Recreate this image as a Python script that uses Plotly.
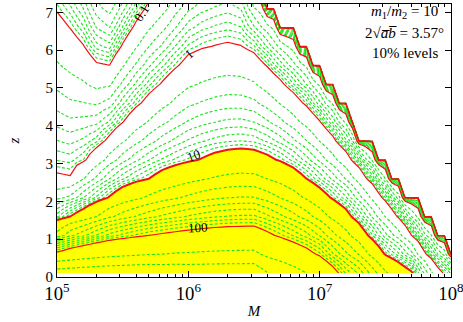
import numpy as np
import plotly.graph_objects as go

# columns where the contour heights were read: log10 of M
M_LOG = [5.0, 5.1, 5.2, 5.3, 5.4, 5.5, 5.6, 5.7, 5.8, 5.9, 6.0,
         6.1, 6.2, 6.3, 6.4, 6.5, 6.6, 6.7, 6.8, 6.9, 7.0,
         7.1, 7.2, 7.3, 7.4, 7.5, 7.6, 7.7, 7.8, 7.9, 8.0]
# grid rows: redshift z
Z_NODES = [0.1, 0.6, 1.1, 1.6, 2.1, 2.6, 3.1, 3.6, 4.1, 4.6, 5.1, 5.6, 6.1, 6.6, 7.1, 7.6]
# grid columns (log10 M), finer than the reading columns
GRID_M = [5.0 + 0.05 * i for i in range(61)]

# per column: log10 of the quantity at z=0,
# and the redshift where the 100 / 10 / 1 / 0.1 contours cross that column
LOG_BOTTOM = [2.65, 2.65, 2.65, 2.65, 2.65, 2.65, 2.65, 2.65, 2.64, 2.64, 2.63,
              2.63, 2.63, 2.63, 2.63, 2.63, 2.53, 2.48, 2.42, 2.35, 2.28,
              2.15, 1.95, 1.82, 1.62, 1.40, 1.25, 1.10, 0.67, 0.21, -0.05]
Z_100 = [0.64, 0.72, 0.80, 0.88, 0.95, 1.00, 1.05, 1.10, 1.14, 1.18, 1.22,
         1.25, 1.28, 1.30, 1.31, 1.32, 1.19, 1.04, 0.90, 0.75, 0.55,
         0.22, None, None, None, None, None, None, None, None, None]
Z_10 = [1.37, 1.60, 1.72, 1.90, 2.12, 2.30, 2.45, 2.60, 2.75, 2.87, 3.00,
        3.12, 3.22, 3.29, 3.33, 3.30, 3.20, 3.05, 2.85, 2.60, 2.32,
        2.05, 1.78, 1.39, 0.97, 0.58, 0.36, 0.14, None, None, None]
Z_1 = [2.65, 2.62, 2.95, 3.32, 3.70, 4.08, 4.45, 4.80, 5.15, 5.50, 5.85,
       6.02, 6.12, 6.18, 6.12, 5.95, 5.57, 5.22, 4.87, 4.52, 4.13,
       3.72, 3.31, 2.90, 2.48, 2.02, 1.56, 1.10, 0.64, 0.20, None]
Z_01 = [7.00, 6.57, 6.14, 5.66, 5.60, 6.16, 6.72, 7.27, 7.65, 8.20, 8.80,
        9.20, 9.50, 9.75, 9.30, 7.65, 7.23, 6.75, 6.40, 5.95, 5.40,
        4.90, 4.35, 3.80, 3.30, 2.85, 2.45, 2.05, 1.60, 1.20, 0.78]
# redshift above which the signal is gone (zero)
Z_CUT = [99, 99, 99, 99, 99, 99, 99, 99, 99, 99, 99,
         99, 99, 99, 99, 7.45, 7.03, 6.55, 6.20, 5.75, 5.20,
         4.70, 4.15, 3.60, 3.10, 2.65, 2.25, 1.85, 1.40, 1.00, 0.58]

RED_LEVELS = [0.001, 0.01, 0.1, 1, 100]
FILL_LEVEL = 10
LABELS = [("0.1", 5.64, 6.98, -58), ("1", 6.01, 5.90, -40),
          ("10", 6.04, 3.22, -20), ("100", 6.07, 1.31, -3)]

GREEN = "rgb(30,228,30)"
RED = "rgb(238,20,20)"
SERIF = "Liberation Serif, DejaVu Serif, serif"


def column_log(i):
    zs, ls = [0.0], [LOG_BOTTOM[i]]
    for h, lv in ((Z_100[i], 2), (Z_10[i], 1), (Z_1[i], 0), (Z_01[i], -1)):
        if h is not None:
            zs.append(h)
            ls.append(lv)
    slope = (ls[-1] - ls[-2]) / (zs[-1] - zs[-2])
    ls.append(ls[-1] + slope * (10.0 - zs[-1]))
    zs.append(10.0)
    return np.interp(Z_NODES, zs, ls)


coarse = np.column_stack([column_log(i) for i in range(len(M_LOG))])
logs = np.array([np.interp(GRID_M, M_LOG, row) for row in coarse])
grid = 10 ** logs
cut = np.interp(GRID_M, M_LOG, Z_CUT)
grid[np.array(Z_NODES)[:, None] > cut[None, :]] = 0.0
mvals = [10 ** v for v in GRID_M]

fig = go.Figure()

# yellow region above 10 (plotly shades the side that fails the constraint)
fig.add_trace(go.Contour(
    x=mvals, y=Z_NODES, z=grid, showscale=False, hoverinfo="skip",
    contours=dict(type="constraint", operation="<", value=FILL_LEVEL),
    fillcolor="#ffff00", line=dict(width=0, smoothing=0),
))

# green dashed contours, 2..9 per decade
for k in range(-3, 3):
    d = 10.0 ** k
    fig.add_trace(go.Contour(
        x=mvals, y=Z_NODES, z=grid, showscale=False, hoverinfo="skip",
        autocontour=False,
        contours=dict(coloring="none", start=2 * d, end=9.01 * d, size=d),
        line=dict(color=GREEN, width=1.1, dash="3px,2px", smoothing=0),
    ))

# red decade contours
for lv in RED_LEVELS + [FILL_LEVEL]:
    fig.add_trace(go.Contour(
        x=mvals, y=Z_NODES, z=grid, showscale=False, hoverinfo="skip",
        contours=dict(type="constraint", operation="=", value=lv),
        line=dict(color=RED, width=2 if lv == FILL_LEVEL else 1.2, smoothing=0),
    ))

for txt, lx, lz, ang in LABELS:
    fig.add_annotation(x=lx, y=lz, text=txt, showarrow=False, textangle=ang,
                       font=dict(family=SERIF, size=13, color="black"))

for txt, py in (("<i>m</i><sub>1</sub>/<i>m</i><sub>2</sub> = 10", 0.972),
                ("2\u221a<i>a\u0305b\u0305</i> = 3.57\u00b0", 0.895),
                ("10% levels", 0.822)):
    fig.add_annotation(xref="paper", yref="paper", x=0.883, y=py, text=txt,
                       showarrow=False, xanchor="center", yanchor="middle",
                       font=dict(family=SERIF, size=15, color="black"))

fig.update_xaxes(
    type="log", range=[5, 8], dtick=1, exponentformat="power",
    ticks="inside", ticklen=6, tickcolor="black", mirror="ticks",
    showline=True, linecolor="black", linewidth=1, showgrid=False, zeroline=False,
    minor=dict(ticks="inside", ticklen=3, tickcolor="black", dtick="D1", showgrid=False),
    ticklabeloverflow="allow", automargin=False,
    tickfont=dict(family=SERIF, size=15, color="black"),
    title=dict(text="<i>M</i>", font=dict(family=SERIF, size=15, color="black"), standoff=2),
)
fig.update_yaxes(
    range=[0, 7.22], dtick=1, ticks="inside", ticklen=6, tickcolor="black",
    mirror="ticks", showline=True, linecolor="black", linewidth=1,
    showgrid=False, zeroline=False, automargin=False,
    tickfont=dict(family=SERIF, size=15, color="black"),
    title=dict(text="<i>z</i>", font=dict(family=SERIF, size=15, color="black"), standoff=22),
)
fig.update_layout(
    width=463, height=322, margin=dict(l=57, r=12, t=4, b=45),
    plot_bgcolor="white", paper_bgcolor="white", showlegend=False,
)

fig.write_html("out.html", config={"displayModeBar": False},
               post_script="document.body.style.margin='0px';")
